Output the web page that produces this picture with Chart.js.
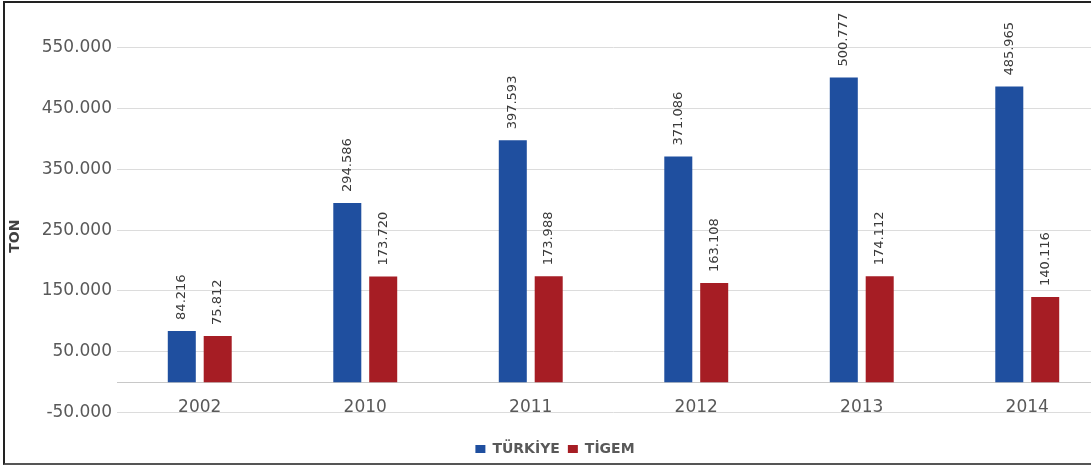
<!DOCTYPE html>
<html>
<head>
<meta charset="utf-8">
<script src="https://cdn.jsdelivr.net/npm/chart.js@4.4.1/dist/chart.umd.min.js"></script>
<style>
  html, body { margin: 0; padding: 0; background: #fff; overflow: hidden; }
  #wrap { position: relative; width: 1091px; height: 466px; overflow: hidden; }
  #frame { position: absolute; left: 3px; top: 1px; width: 1100px; height: 460px;
    border-left: 2px solid #222; border-top: 2px solid #222; border-bottom: 2px solid #555; pointer-events: none; }
  canvas { position: absolute; left: 0; top: 0; }
</style>
</head>
<body>
<div id="wrap">
  <canvas id="chart" width="1110" height="466"></canvas>
  <div id="frame"></div>
</div>
<script>
const years = ['2002', '2010', '2011', '2012', '2013', '2014'];
const turkiye = [84216, 294586, 397593, 371086, 500777, 485965];
const tigem = [75812, 173720, 173988, 163108, 174112, 140116];
const yTicks = [-50000, 50000, 150000, 250000, 350000, 450000, 550000];

function fmt(v) {
  return String(v).replace(/\B(?=(\d{3})+(?!\d))/g, '.');
}

// value labels above bars, rotated, plus the "TON" axis title
const barLabels = {
  id: 'barLabels',
  afterDatasetsDraw(chart) {
    const ctx = chart.ctx;
    ctx.save();
    ctx.font = '13px "DejaVu Sans"';
    ctx.fillStyle = '#3a3a3a';
    ctx.textAlign = 'left';
    ctx.textBaseline = 'middle';
    chart.data.datasets.forEach((ds, i) => {
      chart.getDatasetMeta(i).data.forEach((bar, j) => {
        ctx.save();
        ctx.translate(bar.x, bar.y - 11);
        ctx.rotate(-Math.PI / 2);
        ctx.fillText(fmt(ds.data[j]), 0, 0);
        ctx.restore();
      });
    });
    const y = chart.scales.y;
    const mid = (y.getPixelForValue(yTicks[0]) + y.getPixelForValue(yTicks[yTicks.length - 1])) / 2 + 6;
    ctx.font = 'bold 14px "DejaVu Sans"';
    ctx.fillStyle = '#404040';
    ctx.textAlign = 'center';
    ctx.translate(15, mid);
    ctx.rotate(-Math.PI / 2);
    ctx.fillText('TON', 0, 0);
    ctx.restore();
  }
};

new Chart(document.getElementById('chart'), {
  type: 'bar',
  data: {
    labels: years,
    datasets: [
      { label: 'TÜRKİYE', data: turkiye, backgroundColor: '#1f4f9f' },
      { label: 'TİGEM', data: tigem, backgroundColor: '#a61d24' }
    ]
  },
  options: {
    responsive: false,
    animation: false,
    categoryPercentage: 0.434,
    barPercentage: 0.78,
    layout: { padding: { top: 6, bottom: 0, left: 0, right: 0 } },
    plugins: {
      legend: {
        position: 'bottom',
        labels: {
          boxWidth: 10,
          boxHeight: 8,
          padding: 8,
          color: '#595959',
          font: { family: 'DejaVu Sans', size: 14, weight: 'bold' }
        }
      },
      tooltip: { enabled: false }
    },
    scales: {
      x: {
        position: { y: 0 },
        grid: { display: false },
        border: { display: true, color: '#c8c8c8', width: 1 },
        ticks: { color: '#595959', padding: 7, font: { family: 'DejaVu Sans', size: 17 } }
      },
      y: {
        min: -85300,
        max: 603400,
        afterBuildTicks: s => { s.ticks = yTicks.map(v => ({ value: v })); },
        afterFit: s => { s.width = 117; },
        grid: { color: '#dcdcdc', drawTicks: false },
        border: { display: false },
        ticks: {
          color: '#595959',
          padding: 5,
          font: { family: 'DejaVu Sans', size: 17 },
          callback: v => fmt(v)
        }
      }
    }
  },
  plugins: [barLabels]
});
</script>
</body>
</html>
